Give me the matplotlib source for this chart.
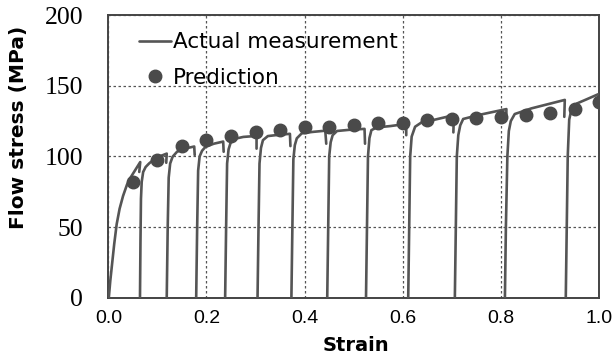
import matplotlib
matplotlib.use("Agg")
import matplotlib.pyplot as plt
from matplotlib import font_manager

# ---------------- data ----------------
pred_strain = [0.05, 0.10, 0.15, 0.20, 0.25, 0.30, 0.35, 0.40, 0.45, 0.50,
               0.55, 0.60, 0.65, 0.70, 0.75, 0.80, 0.85, 0.90, 0.95, 1.00]
pred_stress = [82.1, 97.4, 107.5, 111.6, 114.4, 117.2, 118.6, 120.5, 121.0, 122.2,
               123.4, 123.4, 125.7, 126.4, 126.9, 127.6, 129.3, 130.9, 133.5, 138.7]

# measured flow curves, one per pass: strain, stress
pass1_strain = [0.001, 0.004, 0.008, 0.012, 0.017, 0.023, 0.030, 0.038, 0.047, 0.056, 0.065, 0.063]
pass1_stress = [0, 12, 25, 38, 52, 63, 72, 80, 86, 91, 96, 89]
pass2_strain = [0.0645, 0.0655, 0.0665, 0.068, 0.071, 0.076, 0.083, 0.095, 0.108, 0.119, 0.118]
pass2_stress = [0, 40, 70, 82, 89, 92.5, 95, 98.5, 100.5, 102, 95.5]
pass3_strain = [0.119, 0.121, 0.123, 0.126, 0.131, 0.140, 0.155, 0.175, 0.176]
pass3_stress = [0, 50, 85, 95, 99.8, 103.3, 105.5, 107, 101]
pass4_strain = [0.179, 0.181, 0.183, 0.186, 0.191, 0.198, 0.215, 0.234, 0.235]
pass4_stress = [0, 50, 90, 100, 104, 106.8, 109, 110.5, 103.3]
pass5_strain = [0.238, 0.240, 0.242, 0.245, 0.249, 0.258, 0.275, 0.302, 0.302]
pass5_stress = [0, 50, 95, 105, 109.5, 112.5, 113.8, 114.5, 105.5]
pass6_strain = [0.304, 0.306, 0.308, 0.311, 0.315, 0.325, 0.345, 0.370, 0.371]
pass6_stress = [0, 50, 95, 106, 111.5, 114.4, 115.2, 116, 107.3]
pass7_strain = [0.373, 0.375, 0.377, 0.380, 0.384, 0.394, 0.415, 0.442, 0.444]
pass7_stress = [0, 50, 98, 108, 112.8, 116.3, 117.3, 118.2, 109]
pass8_strain = [0.446, 0.448, 0.450, 0.453, 0.457, 0.466, 0.490, 0.522, 0.523]
pass8_stress = [0, 50, 100, 110, 115, 118, 118.8, 119.5, 109]
pass9_strain = [0.525, 0.527, 0.529, 0.532, 0.536, 0.547, 0.575, 0.607, 0.607]
pass9_stress = [0, 50, 100, 113, 118.6, 120.5, 121.5, 123, 115]
pass10_strain = [0.611, 0.613, 0.615, 0.618, 0.625, 0.640, 0.665, 0.704, 0.703]
pass10_stress = [0, 50, 100, 114, 121, 124.5, 126, 129.2, 117]
pass11_strain = [0.706, 0.708, 0.710, 0.713, 0.717, 0.723, 0.753, 0.811, 0.811]
pass11_stress = [0, 50, 100, 115, 122, 126.5, 129.2, 133.5, 127]
pass12_strain = [0.808, 0.810, 0.813, 0.816, 0.820, 0.828, 0.862, 0.930, 0.929]
pass12_stress = [0, 50, 100, 118, 125, 130, 134, 140, 128]
pass13_strain = [0.932, 0.934, 0.936, 0.939, 0.944, 0.955, 0.975, 0.998]
pass13_stress = [0, 50, 100, 126, 134, 137.5, 140.5, 144]

passes = [
    (pass1_strain, pass1_stress), (pass2_strain, pass2_stress),
    (pass3_strain, pass3_stress), (pass4_strain, pass4_stress),
    (pass5_strain, pass5_stress), (pass6_strain, pass6_stress),
    (pass7_strain, pass7_stress), (pass8_strain, pass8_stress),
    (pass9_strain, pass9_stress), (pass10_strain, pass10_stress),
    (pass11_strain, pass11_stress), (pass12_strain, pass12_stress),
    (pass13_strain, pass13_stress),
]

x_ticks = [0.0, 0.2, 0.4, 0.6, 0.8, 1.0]
x_tick_labels = ["0.0", "0.2", "0.4", "0.6", "0.8", "1.0"]
y_ticks = [0, 50, 100, 150, 200]
y_tick_labels = ["0", "50", "100", "150", "200"]

# ---------------- styling ----------------
available = {f.name for f in font_manager.fontManager.ttflist}
if "Liberation Sans Narrow" in available:
    xtick_font, xtick_size = "Liberation Sans Narrow", 16
else:
    xtick_font, xtick_size = "Liberation Sans", 14

line_col = "#555555"
dot_col = "#4a4a4a"

fig = plt.figure(figsize=(6.12, 3.6), dpi=100)
ax = fig.add_axes([0.177, 0.173, 0.802, 0.785])

for i, (sx, sy) in enumerate(passes):
    ax.plot(sx, sy, color=line_col, lw=1.9, solid_capstyle="round",
            solid_joinstyle="round", zorder=3,
            label="Actual measurement" if i == 0 else None)

ax.plot(pred_strain, pred_stress, linestyle="none", marker="o", ms=9,
        color=dot_col, zorder=4, label="Prediction")

ax.set_xlim(0, 1.0)
ax.set_ylim(0, 200)
ax.set_xticks(x_ticks)
ax.set_xticklabels(x_tick_labels, fontfamily=xtick_font, fontsize=xtick_size)
ax.set_yticks(y_ticks)
ax.set_yticklabels(y_tick_labels, fontfamily="Liberation Serif", fontsize=18.5)
ax.tick_params(axis="both", length=0, colors="black")
ax.tick_params(axis="x", pad=9)
ax.tick_params(axis="y", pad=18)

ax.grid(True, linestyle=(0, (2, 2)), color="#555555", lw=0.9)
ax.set_axisbelow(True)
for s in ax.spines.values():
    s.set_color("#444444")
    s.set_linewidth(1.4)

ax.set_xlabel("Strain", fontfamily="DejaVu Sans", fontweight="bold", fontsize=14)
ax.set_ylabel("Flow stress (MPa)", fontfamily="DejaVu Sans", fontweight="bold",
              fontsize=14.5)
ax.xaxis.set_label_coords(0.504, -0.135)
ax.yaxis.set_label_coords(-0.164, 0.602)

leg = ax.legend(loc="upper left", bbox_to_anchor=(0.062, 0.94), frameon=False,
                prop={"family": "DejaVu Sans", "size": 15.5},
                handlelength=1.5, handletextpad=0.1, labelspacing=0.73,
                borderpad=0, borderaxespad=0)

fig.savefig("out.png", dpi=100)
